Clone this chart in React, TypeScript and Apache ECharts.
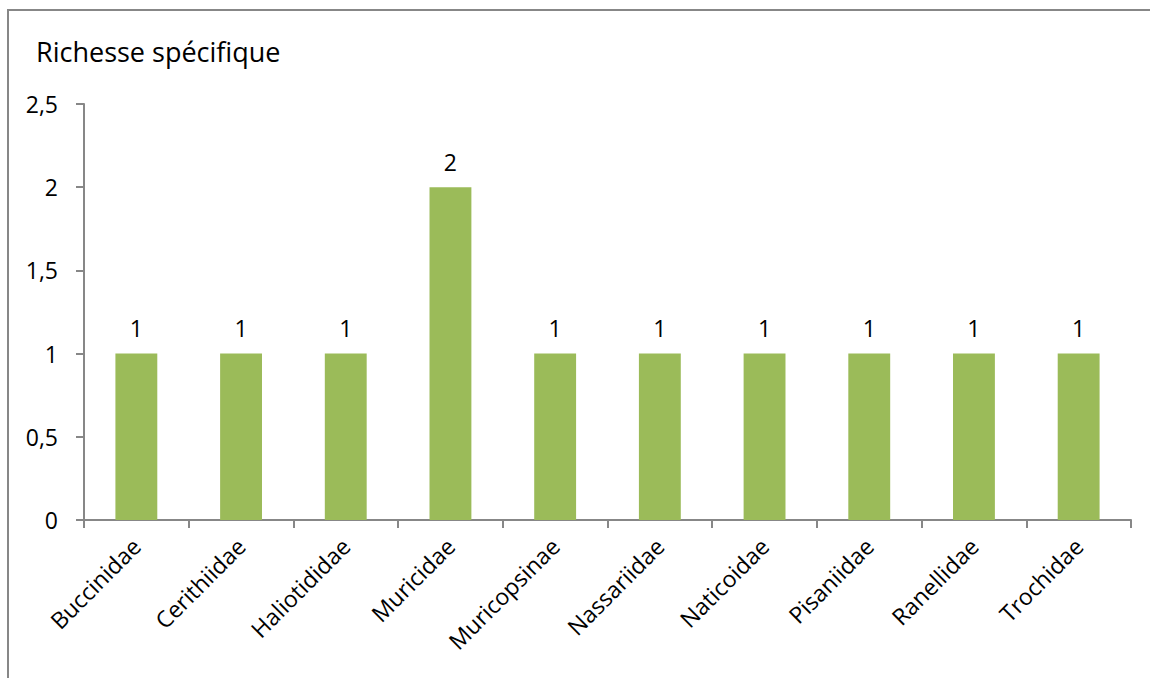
import React, { useEffect, useRef } from "react";
import * as echarts from "echarts";

const categories = [
  "Buccinidae",
  "Cerithiidae",
  "Haliotididae",
  "Muricidae",
  "Muricopsinae",
  "Nassariidae",
  "Naticoidae",
  "Pisaniidae",
  "Ranellidae",
  "Trochidae",
];
const values = [1, 1, 1, 2, 1, 1, 1, 1, 1, 1];
const titleText = "Richesse spécifique";

const FONT = "'Open Sans', 'Noto Sans', sans-serif";
const AXIS_COLOR = "#878787";

export default function App() {
  const ref = useRef<HTMLDivElement>(null);
  useEffect(() => {
    if (!ref.current) return;
    const chart = echarts.init(ref.current, undefined, { renderer: "svg" });
    chart.setOption({
      animation: false,
      backgroundColor: "#ffffff",
      title: {
        text: titleText,
        left: 31,
        top: 33,
        textStyle: { fontFamily: FONT, fontSize: 27, fontWeight: "normal", color: "#000" },
      },
      graphic: [
        {
          type: "rect",
          shape: { x: 8, y: 10, width: 1300, height: 800 },
          style: { fill: "none", stroke: AXIS_COLOR, lineWidth: 2 },
          silent: true,
        },
      ],
      grid: { left: 84, right: 19, top: 104, bottom: 158 },
      xAxis: {
        type: "category",
        data: categories,
        axisLine: { lineStyle: { color: AXIS_COLOR, width: 2 } },
        axisTick: { show: true, length: 8, lineStyle: { color: AXIS_COLOR, width: 2 } },
        axisLabel: {
          rotate: 45,
          interval: 0,
          margin: 22,
          fontFamily: FONT,
          fontSize: 23,
          color: "#000",
        },
      },
      yAxis: {
        type: "value",
        min: 0,
        max: 2.5,
        interval: 0.5,
        splitLine: { show: false },
        axisLine: { show: true, lineStyle: { color: AXIS_COLOR, width: 2 } },
        axisTick: { show: true, length: 8, lineStyle: { color: AXIS_COLOR, width: 2 } },
        axisLabel: {
          margin: 26,
          fontFamily: FONT,
          fontSize: 23,
          color: "#000",
          formatter: (v: number) => String(v).replace(".", ","),
        },
      },
      series: [
        {
          type: "bar",
          data: values,
          barWidth: "40%",
          itemStyle: { color: "#9BBB59" },
          label: {
            show: true,
            position: "top",
            distance: 14,
            fontFamily: FONT,
            fontSize: 23,
            color: "#000",
          },
        },
      ],
    });
    return () => chart.dispose();
  }, []);
  return (
    <div
      ref={ref}
      style={{ position: "fixed", left: 0, top: 0, width: 1150, height: 678 }}
    />
  );
}
